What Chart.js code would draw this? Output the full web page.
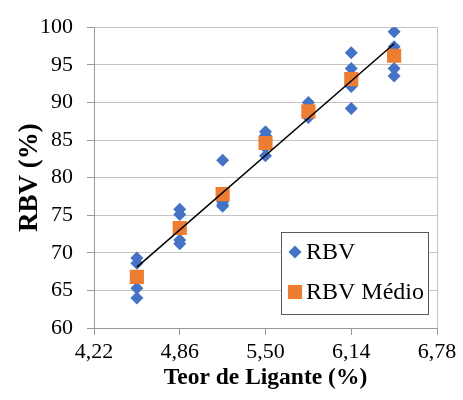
<!DOCTYPE html>
<html>
<head>
<meta charset="utf-8">
<script src="https://cdn.jsdelivr.net/npm/chart.js@4/dist/chart.umd.min.js"></script>
<style>
  html, body { margin: 0; padding: 0; background: #fff; }
  #wrap { width: 463px; height: 400px; }
</style>
</head>
<body>
<div id="wrap"><canvas id="chart" width="463" height="400"></canvas></div>
<script>
// Teor de ligante de cada grupo de amostras
const teores = [4.54, 4.86, 5.18, 5.50, 5.82, 6.14, 6.46];
// RBV de cada amostra (4 por teor)
const rbvAmostras = [
    [69.3, 68.6, 65.3, 64.0],
    [75.8, 75.1, 71.7, 71.2],
    [82.3, 76.8, 76.4, 76.2],
    [86.1, 85.6, 84.0, 82.9],
    [90.0, 88.9, 88.6, 88.0],
    [96.6, 94.5, 92.1, 89.2],
    [99.4, 97.4, 94.5, 93.5]
];
// RBV médio por teor
const rbvMedio = [66.8, 73.3, 77.8, 84.6, 88.8, 93.1, 96.2];
// linha de tendência (extremos)
const tendenciaX = [4.54, 6.46];
const tendenciaY = [68.1, 97.8];
// eixos
const xTicks = [4.22, 4.86, 5.50, 6.14, 6.78];
const xTickLabels = ['4,22', '4,86', '5,50', '6,14', '6,78'];
const yMin = 60, yMax = 100, yStep = 5;

const FONT = "'Liberation Serif', 'Times New Roman', serif";
const AZUL = '#4472C4';
const LARANJA = '#ED7D31';
const GRADE = '#c4c4c4';
const EIXO = '#9a9a9a';

// pontos das amostras
const pontosRbv = [];
teores.forEach((t, i) => {
    rbvAmostras[i].forEach(v => pontosRbv.push({ x: t, y: v }));
});

// legenda desenhada dentro da área do gráfico
const legendaInterna = {
    id: 'legendaInterna',
    afterDraw(chart) {
        const ctx = chart.ctx;
        const x0 = 281, y0 = 232, w = 147, h = 82;
        ctx.save();
        ctx.fillStyle = '#fff';
        ctx.fillRect(x0, y0, w, h);
        ctx.strokeStyle = '#595959';
        ctx.lineWidth = 1;
        ctx.strokeRect(x0 + 0.5, y0 + 0.5, w, h);

        const itens = [
            { texto: 'RBV', estilo: 'rectRot', raio: 6.5, cor: AZUL, y: 252 },
            { texto: 'RBV Médio', estilo: 'rect', raio: 10, cor: LARANJA, y: 292 }
        ];
        itens.forEach(it => {
            ctx.fillStyle = it.cor;
            ctx.strokeStyle = it.cor;
            Chart.helpers.drawPoint(ctx, { pointStyle: it.estilo, radius: it.raio, rotation: 0, borderWidth: 0 }, 295, it.y);
            ctx.fillStyle = '#000';
            ctx.font = '24px ' + FONT;
            ctx.textBaseline = 'middle';
            ctx.textAlign = 'left';
            ctx.fillText(it.texto, 306, it.y + 1);
        });
        ctx.restore();
    }
};

const ctx = document.getElementById('chart').getContext('2d');
new Chart(ctx, {
    type: 'scatter',
    data: {
        datasets: [
            {
                label: 'Tendência',
                data: tendenciaX.map((x, i) => ({ x: x, y: tendenciaY[i] })),
                showLine: true,
                borderColor: '#000',
                borderWidth: 1.5,
                pointRadius: 0,
                order: 0
            },
            {
                label: 'RBV Médio',
                data: teores.map((t, i) => ({ x: t, y: rbvMedio[i] })),
                pointStyle: 'rect',
                pointRadius: 10,
                pointHoverRadius: 10,
                backgroundColor: LARANJA,
                borderColor: LARANJA,
                borderWidth: 0,
                order: 1
            },
            {
                label: 'RBV',
                data: pontosRbv,
                pointStyle: 'rectRot',
                pointRadius: 6.5,
                pointHoverRadius: 6.5,
                backgroundColor: AZUL,
                borderColor: AZUL,
                borderWidth: 0,
                order: 2
            }
        ]
    },
    options: {
        responsive: false,
        animation: false,
        layout: { padding: { left: 0, right: 26, top: 15, bottom: 0 } },
        plugins: {
            legend: { display: false },
            tooltip: { enabled: false }
        },
        scales: {
            x: {
                type: 'linear',
                min: xTicks[0],
                max: xTicks[xTicks.length - 1],
                afterBuildTicks: axis => { axis.ticks = xTicks.map(v => ({ value: v })); },
                afterFit: axis => { axis.height = 72; },
                border: { color: EIXO, width: 1 },
                grid: {
                    color: c => c.index === xTicks.length - 1 ? GRADE : 'rgba(0,0,0,0)',
                    tickColor: EIXO,
                    tickLength: 7
                },
                ticks: {
                    color: '#000',
                    font: { family: FONT, size: 22 },
                    padding: 4,
                    maxRotation: 0,
                    callback: (v, i) => xTickLabels[i]
                },
                title: {
                    display: true,
                    text: 'Teor de Ligante (%)',
                    color: '#000',
                    font: { family: FONT, size: 23.5, weight: 'bold' },
                    padding: { top: 0, bottom: 8 }
                }
            },
            y: {
                min: yMin,
                max: yMax,
                afterFit: axis => { axis.width = 94; },
                border: { color: EIXO, width: 1 },
                grid: { color: GRADE, tickColor: EIXO, tickLength: 7 },
                ticks: {
                    stepSize: yStep,
                    color: '#000',
                    font: { family: FONT, size: 22 },
                    padding: 14
                },
                title: {
                    display: true,
                    text: 'RBV (%)',
                    color: '#000',
                    font: { family: FONT, size: 27, weight: 'bold' },
                    padding: { top: 14, bottom: 0 }
                }
            }
        }
    },
    plugins: [legendaInterna]
});
</script>
</body>
</html>
